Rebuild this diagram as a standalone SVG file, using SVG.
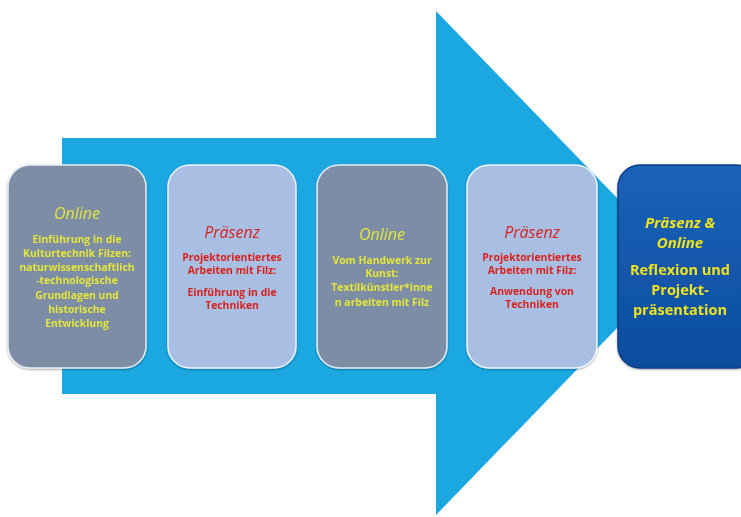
<svg xmlns="http://www.w3.org/2000/svg" width="741" height="517" viewBox="0 0 741 517">
<defs>
<linearGradient id="g5" x1="0" y1="0" x2="0" y2="1">
<stop offset="0" stop-color="#1c62b8"/>
<stop offset="1" stop-color="#0b4c9e"/>
</linearGradient>
<filter id="sh" x="-10%" y="-10%" width="120%" height="120%">
<feGaussianBlur in="SourceAlpha" stdDeviation="1.2"/>
<feOffset dx="0" dy="1" result="b"/>
<feComponentTransfer><feFuncA type="linear" slope="0.35"/></feComponentTransfer>
<feMerge><feMergeNode/><feMergeNode in="SourceGraphic"/></feMerge>
</filter>
</defs>
<style>
.dark{fill:#7d8da6;stroke:#e6ecf4;stroke-width:1.5}
.light{fill:#a8bee2;stroke:#eef3fa;stroke-width:1.5}
.end{fill:url(#g5);stroke:#0a3f86;stroke-width:1.5}
text{font-family:"Open Sans","Liberation Sans",sans-serif;text-anchor:middle}
.h{font-style:italic;font-size:16px}
.h5{font-style:italic;font-size:15px}
.b{font-weight:bold;font-size:10.4px}
.y{fill:#e2e63a}
.r{fill:#d9231f}
.y5{fill:#f0e21c;font-weight:bold}
.t5{font-size:14.5px}
</style>
<rect width="741" height="517" fill="#ffffff"/>
<g id="arrow">
<polygon points="62,138 436,138 436,11 680,263 436,515 436,394 62,394" fill="#1ba8e1"/>
</g>
<g id="connectors"></g>
<g id="node1" filter="url(#sh)">
<rect class="dark" x="8" y="165" width="138" height="203" rx="22"/>
<text class="h y" x="77" y="219">Online</text>
<text class="b y" x="77" y="243">Einführung in die</text>
<text class="b y" x="77" y="257">Kulturtechnik Filzen:</text>
<text class="b y" x="77" y="271">naturwissenschaftlich</text>
<text class="b y" x="77" y="284">-technologische</text>
<text class="b y" x="77" y="299">Grundlagen und</text>
<text class="b y" x="77" y="313">historische</text>
<text class="b y" x="77" y="327">Entwicklung</text>
</g>
<g id="node2" filter="url(#sh)">
<rect class="light" x="168" y="165" width="128" height="203" rx="22"/>
<text class="h r" x="232" y="238">Präsenz</text>
<text class="b r" x="232" y="261">Projektorientiertes</text>
<text class="b r" x="232" y="274">Arbeiten mit Filz:</text>
<text class="b r" x="232" y="296">Einführung in die</text>
<text class="b r" x="232" y="309">Techniken</text>
</g>
<g id="node3" filter="url(#sh)">
<rect class="dark" x="317" y="165" width="130" height="203" rx="22"/>
<text class="h y" x="382" y="240">Online</text>
<text class="b y" x="382" y="264">Vom Handwerk zur</text>
<text class="b y" x="382" y="277">Kunst:</text>
<text class="b y" x="382" y="291">Textilkünstler*inne</text>
<text class="b y" x="382" y="306">n arbeiten mit Filz</text>
</g>
<g id="node4" filter="url(#sh)">
<rect class="light" x="467" y="165" width="130" height="203" rx="22"/>
<text class="h r" x="532" y="238">Präsenz</text>
<text class="b r" x="532" y="261">Projektorientiertes</text>
<text class="b r" x="532" y="274">Arbeiten mit Filz:</text>
<text class="b r" x="532" y="295">Anwendung von</text>
<text class="b r" x="532" y="308">Techniken</text>
</g>
<g id="node5" filter="url(#sh)">
<rect class="end" x="618" y="165" width="140" height="203" rx="22"/>
<text class="h5 y5" x="680" y="228">Präsenz &amp;</text>
<text class="h5 y5" x="680" y="248">Online</text>
<text class="y5 t5" x="680" y="275">Reflexion und</text>
<text class="y5 t5" x="680" y="295">Projekt-</text>
<text class="y5 t5" x="680" y="315">präsentation</text>
</g>
</svg>
